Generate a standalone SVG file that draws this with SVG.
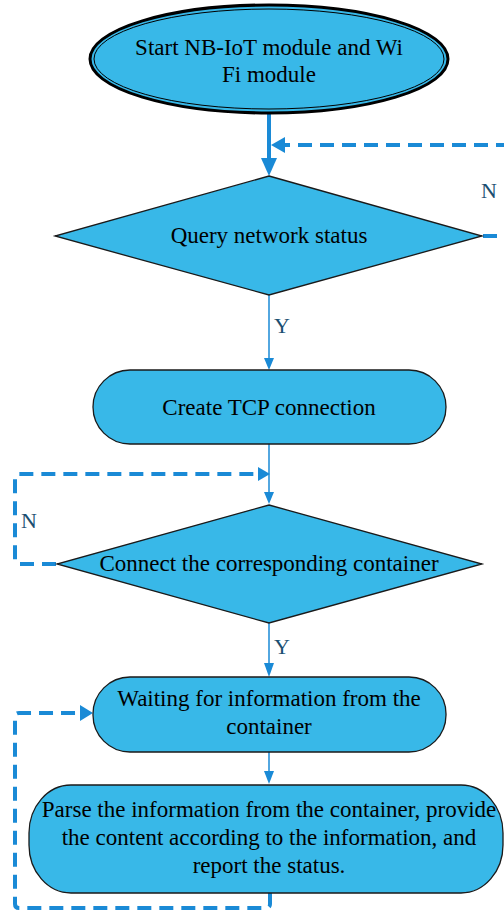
<svg xmlns="http://www.w3.org/2000/svg" width="504" height="915" viewBox="0 0 504 915">
  <style>
    .box { fill: #38b8e8; stroke: #1a1a1a; stroke-width: 1.3; }
    .lbl { font-family: "Liberation Serif", "Times New Roman", serif; font-size: 23px; fill: #000; text-anchor: middle; }
    .yn { font-family: "Liberation Serif", "Times New Roman", serif; font-size: 22px; fill: #1b4f72; }
    .flow { fill: none; stroke: #1a8ad6; stroke-width: 1.5; }
    .thick { fill: none; stroke: #1a8ad6; stroke-width: 4; }
    .dash { fill: none; stroke: #1a8ad6; stroke-width: 4; stroke-dasharray: 14 8; stroke-linejoin: round; }
    .head { fill: #1a8ad6; }
  </style>

  <rect width="504" height="915" fill="#ffffff"/>

  <!-- connectors -->
  <g id="connectors">
    <!-- start -> query -->
    <line class="thick" x1="269" y1="113" x2="269" y2="162"/>
    <polygon class="head" points="261,158 277,158 269,176"/>
    <!-- N loop of query (returns from the right edge) -->
    <path class="dash" d="M483,236 H510"/>
    <path class="dash" d="M510,145 H284"/>
    <polygon class="head" points="271,145 285,137 285,153"/>
    <!-- query -> create TCP -->
    <line class="flow" x1="269" y1="295" x2="269" y2="360"/>
    <polygon class="head" points="264,358 274,358 269,370"/>
    <!-- create TCP -> connect -->
    <line class="flow" x1="269" y1="444" x2="269" y2="494"/>
    <polygon class="head" points="264,492 274,492 269,504"/>
    <!-- N loop of connect -->
    <path class="dash" d="M56,564 H19 Q15,564 15,560 V478 Q15,474 19,474 H258"/>
    <polygon class="head" points="270,474 258,467 258,481"/>
    <!-- connect -> waiting -->
    <line class="flow" x1="269" y1="623" x2="269" y2="665"/>
    <polygon class="head" points="264,663 274,663 269,677"/>
    <!-- waiting -> parse -->
    <line class="flow" x1="269" y1="752" x2="269" y2="773"/>
    <polygon class="head" points="264,771 274,771 269,784"/>
    <!-- parse loops back to waiting -->
    <path class="dash" d="M270,893 V904 Q270,908 266,908 H19 Q15,908 15,904 V717 Q15,713 19,713 H80"/>
    <polygon class="head" points="93,713 80,705 80,721"/>
    <!-- branch labels -->
    <text class="yn" x="481" y="198">N</text>
    <text class="yn" x="274" y="333">Y</text>
    <text class="yn" x="21" y="528">N</text>
    <text class="yn" x="274" y="654">Y</text>
  </g>

  <!-- start terminal: double outline -->
  <g id="start">
    <ellipse cx="269" cy="59" rx="179" ry="54" fill="#38b8e8" stroke="#000" stroke-width="3"/>
    <ellipse cx="269" cy="59" rx="175" ry="50" fill="none" stroke="#000" stroke-width="1"/>
    <text class="lbl" x="269" y="55">Start NB-IoT module and Wi</text>
    <text class="lbl" x="269" y="82">Fi module</text>
  </g>

  <g id="query">
    <polygon class="box" points="269,176 482,236 269,295 55,236"/>
    <text class="lbl" x="269" y="243">Query network status</text>
  </g>

  <g id="create-tcp">
    <rect class="box" x="93" y="370" width="353" height="74" rx="37" ry="37"/>
    <text class="lbl" x="269" y="415">Create TCP connection</text>
  </g>

  <g id="connect">
    <polygon class="box" points="269,505 482,564 269,623 57,564"/>
    <text class="lbl" x="269" y="571">Connect the corresponding container</text>
  </g>

  <g id="waiting">
    <rect class="box" x="93" y="677" width="353" height="75" rx="37" ry="37"/>
    <text class="lbl" x="269" y="706">Waiting for information from the</text>
    <text class="lbl" x="269" y="734">container</text>
  </g>

  <g id="parse">
    <rect class="box" x="29" y="785" width="474" height="108" rx="42" ry="48"/>
    <text class="lbl" x="269" y="817">Parse the information from the container, provide</text>
    <text class="lbl" x="269" y="845">the content according to the information, and</text>
    <text class="lbl" x="269" y="873">report the status.</text>
  </g>
</svg>
